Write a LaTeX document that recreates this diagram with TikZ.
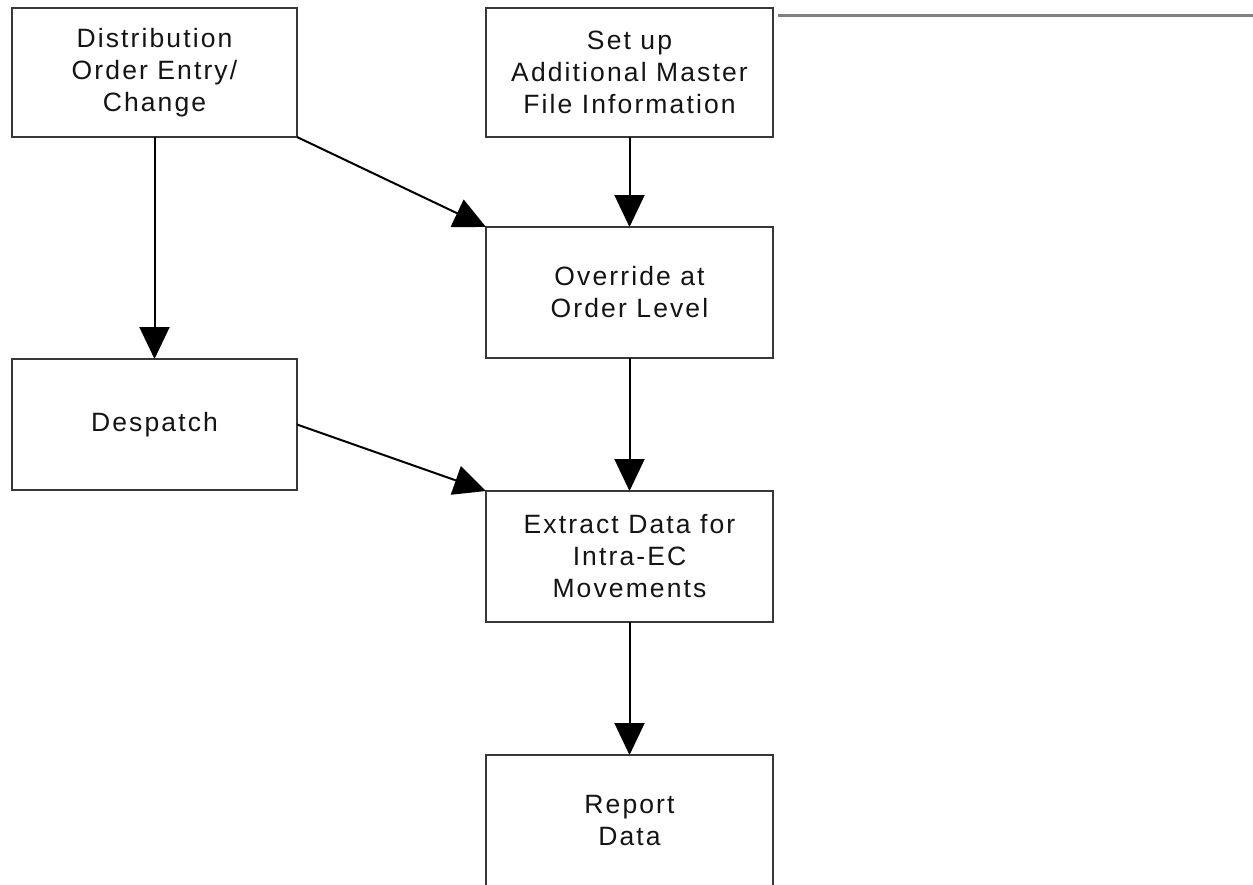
\documentclass[tikz,border=0pt]{standalone}
\usepackage{fontspec}
\setmainfont{Liberation Sans}[LetterSpace=8]
\usetikzlibrary{arrows.meta}
\begin{document}
\begin{tikzpicture}[x=1pt,y=-1pt,
  procbox/.style={draw=black!78, line width=2.6pt, fill=white, align=center,
    inner sep=0pt, outer sep=0pt, text=black!92,
    font=\fontsize{26.5}{32}\selectfont},
  flow/.style={draw=black, line width=2pt,
    -{Triangle[length=32pt,width=30pt]}},
  rule/.style={draw=black!50, line width=2.6pt}]
  \useasboundingbox (0,0) rectangle (1253,884);
  \clip (0,0) rectangle (1253,884);
  \fill[white] (0,0) rectangle (1253,884);

  % process steps
  \node[procbox, minimum width=285pt, minimum height=129pt] (entry) at (154.5,72.5)
    {Distribution\\Order Entry/\\Change};
  \node[procbox, minimum width=287pt, minimum height=129pt] (setup) at (629.5,72.5)
    {Set up\\Additional Master\\File Information};
  \node[procbox, minimum width=287pt, minimum height=131pt] (override) at (629.5,292.5)
    {Override at\\Order Level};
  \node[procbox, minimum width=285pt, minimum height=131pt] (despatch) at (154.5,424.5)
    {Despatch};
  \node[procbox, minimum width=287pt, minimum height=131pt] (extract) at (629.5,556.5)
    {Extract Data for\\Intra-EC\\Movements};
  \node[procbox, minimum width=287pt, minimum height=131pt] (report) at (629.5,820.5)
    {Report\\Data};

  % horizontal rule beside the top right step
  \coordinate (ruleA) at (778,15.5);
  \coordinate (ruleB) at (1253,15.5);
  \draw[rule] (ruleA) -- (ruleB);

  % connectors
  \draw[flow] (entry.south) -- (despatch.north);
  \draw[flow] (entry.south east) -- (override.north west);
  \draw[flow] (setup.south) -- (override.north);
  \draw[flow] (override.south) -- (extract.north);
  \draw[flow] (despatch.east) -- (extract.north west);
  \draw[flow] (extract.south) -- (report.north);
\end{tikzpicture}
\end{document}
